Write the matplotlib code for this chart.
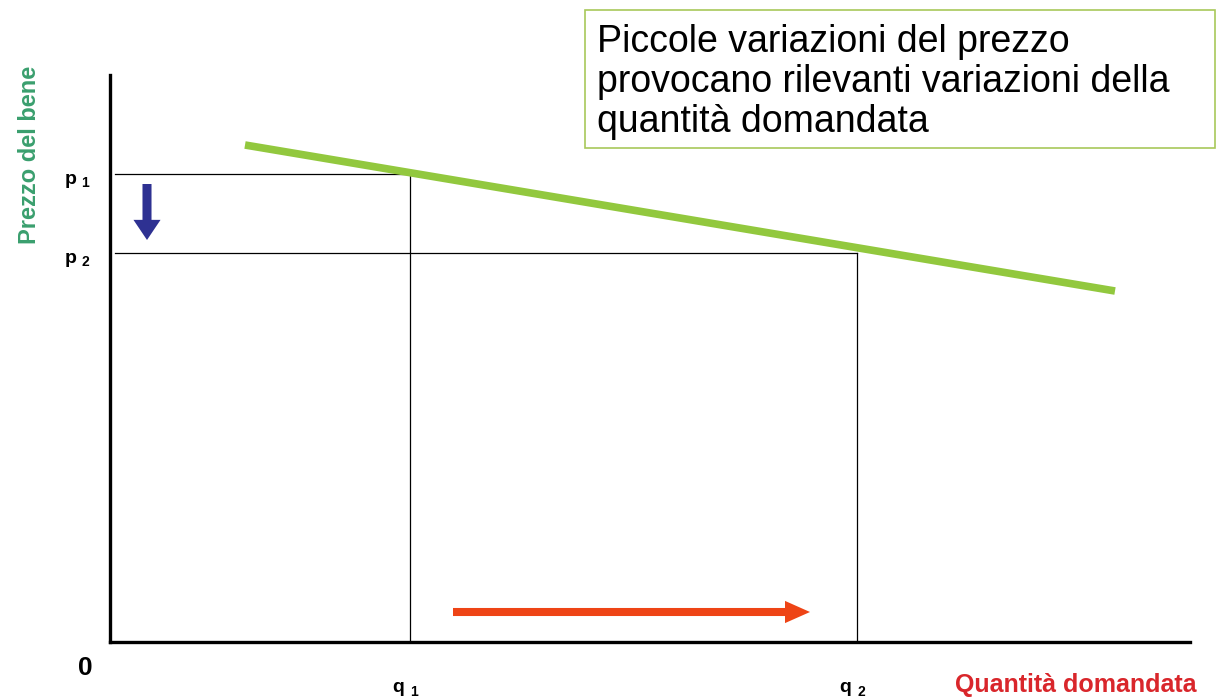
import matplotlib.pyplot as plt
from matplotlib.patches import Rectangle

plt.rcParams['font.family'] = ['Liberation Sans', 'DejaVu Sans']

# demand curve (quantity, price) end points
curve_q = [1.35, 10.05]
curve_p = [4.97, 3.51]
# price / quantity levels
p_levels = [4.68, 3.89]
p_names = ['1', '2']
q_levels = [3.0, 7.47]
q_names = ['1', '2']

fig = plt.figure(figsize=(12.27, 6.98), dpi=100)
ax = fig.add_axes([110 / 1227, 56 / 698, 1080 / 1227, 567 / 698])
ax.set_xlim(0, 10.8)
ax.set_ylim(0, 5.67)
for s in ['top', 'right']:
    ax.spines[s].set_visible(False)
for s in ['left', 'bottom']:
    ax.spines[s].set_linewidth(2.4)
ax.set_xticks([])
ax.set_yticks([])

# guide lines
ax.plot([0.05, q_levels[0]], [p_levels[0]] * 2, color='black', lw=0.9)
ax.plot([0.05, q_levels[1]], [p_levels[1]] * 2, color='black', lw=0.9)
ax.plot([q_levels[0]] * 2, [0, p_levels[0]], color='black', lw=0.9)
ax.plot([q_levels[1]] * 2, [0, p_levels[1]], color='black', lw=0.9)

# demand curve
ax.plot(curve_q, curve_p, color='#92C83E', lw=5.5, solid_capstyle='butt')

# arrows
ax.annotate('', xy=(0.37, 4.02), xytext=(0.37, 4.58),
            arrowprops=dict(width=6.5, headwidth=19.5, headlength=14.5, color='#2E3192', lw=0))
ax.annotate('', xy=(7.0, 0.30), xytext=(3.43, 0.30),
            arrowprops=dict(width=5.8, headwidth=16, headlength=18, color='#EE4416', lw=0))

# labels on axes
for p, n in zip(p_levels, p_names):
    ax.text(-0.33, p - 0.06, 'p', fontsize=14, fontweight='bold', ha='right', va='center')
    ax.text(-0.29, p - 0.09, n, fontsize=10, fontweight='bold', ha='left', va='center')
for q, n in zip(q_levels, q_names):
    ax.text(q - 0.06, -0.46, 'q', fontsize=14, fontweight='bold', ha='right', va='center')
    ax.text(q - 0.0, -0.5, n, fontsize=10, fontweight='bold', ha='left', va='center')

ax.text(-0.25, -0.26, '0', fontsize=19, fontweight='bold', ha='center', va='center', clip_on=False)

fig.text(955 / 1227, 1 - 685 / 698, 'Quantità domandata', color='#D9262B', fontsize=18,
         fontweight='bold', ha='left', va='center')
fig.text(30 / 1227, 1 - 155 / 698, 'Prezzo del bene', color='#3A9F6E', fontsize=17,
         fontweight='bold', rotation=90, ha='center', va='center')

fig.patches.append(Rectangle((585 / 1227, 1 - 148 / 698), 630 / 1227, 138 / 698,
                             transform=fig.transFigure, fc='white', ec='#A8C85A', lw=1.2))
fig.text(597 / 1227, 1 - 82 / 698,
         'Piccole variazioni del prezzo\nprovocano rilevanti variazioni della\nquantità domandata',
         fontsize=27, ha='left', va='center', linespacing=1.14)

fig.savefig('out.png', dpi=100)
